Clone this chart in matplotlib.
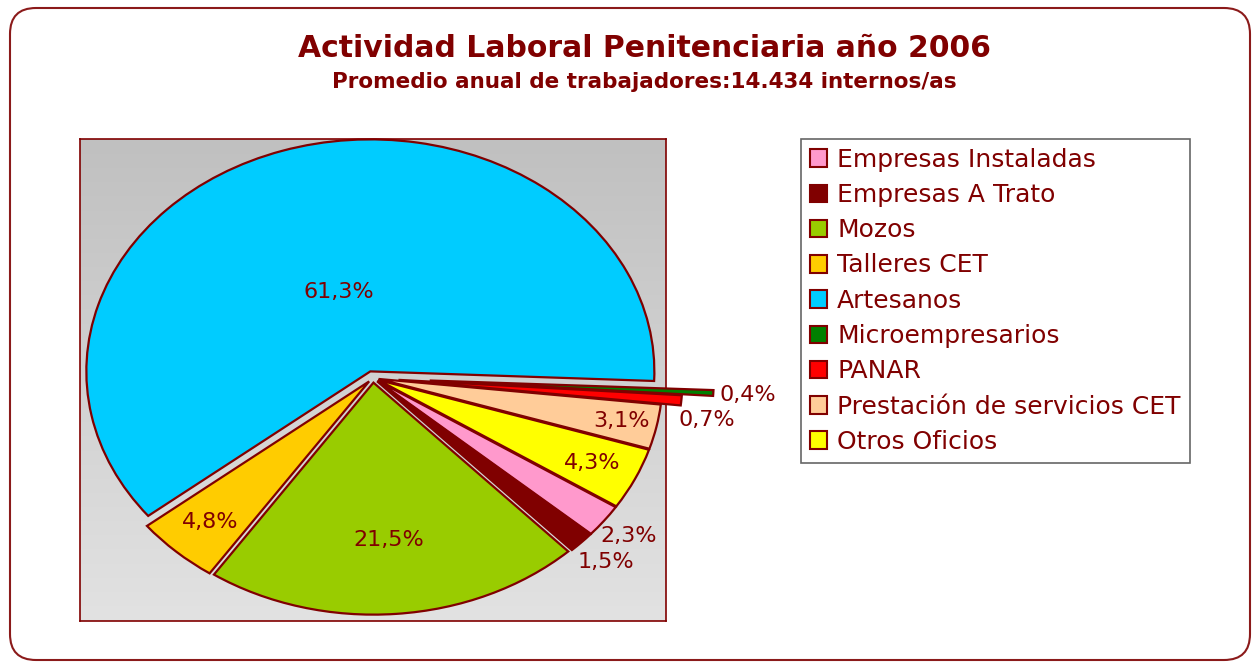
import numpy as np
import matplotlib
matplotlib.use("Agg")
import matplotlib.pyplot as plt
from matplotlib.patches import Patch, FancyBboxPatch

W, H = 1253, 664

categories = ["Empresas Instaladas", "Empresas A Trato", "Mozos", "Talleres CET",
              "Artesanos", "Microempresarios", "PANAR",
              "Prestación de servicios CET", "Otros Oficios"]
values = [2.3, 1.5, 21.5, 4.8, 61.3, 0.4, 0.7, 3.1, 4.3]
pct_labels = ["2,3%", "1,5%", "21,5%", "4,8%", "61,3%", "0,4%", "0,7%", "3,1%", "4,3%"]
colors = ["#ff99cc", "#800000", "#99cc00", "#ffcc00", "#00ccff",
          "#008000", "#ff0000", "#ffcc99", "#ffff00"]
explode = [0.02, 0.02, 0.02, 0.02, 0.03, 0.2, 0.09, 0.02, 0.02]
label_r = [1.13, 1.14, 0.70, 0.845, 0.39, 1.32, 1.19, 0.895, 0.855]
label_dang = [0, 0, 0, 0, 0, 0, -3.7, 0, 0]

dark = "#800000"


def px_axes(fig, x0, y0, x1, y1):
    return fig.add_axes([x0 / W, 1 - y1 / H, (x1 - x0) / W, (y1 - y0) / H])


fig = plt.figure(figsize=(W / 100, H / 100), dpi=100)
fig.patch.set_facecolor("white")

# rounded outer frame, drawn in pixel units
frame_ax = px_axes(fig, 0, 0, W, H)
frame_ax.set_xlim(0, W)
frame_ax.set_ylim(H, 0)
frame_ax.axis("off")
frame_ax.add_patch(FancyBboxPatch((10, 8), 1240, 652,
                                  boxstyle="round,pad=0,rounding_size=26",
                                  facecolor="none", edgecolor="#8b1a1a", linewidth=1.5))

fig.text(0.514, 1 - 57 / H, "Actividad Laboral Penitenciaria año 2006",
         ha="center", va="baseline", fontsize=21.5, fontweight="bold", color=dark,
         family="DejaVu Sans")
fig.text(0.514, 1 - 88 / H, "Promedio anual de trabajadores:14.434 internos/as",
         ha="center", va="baseline", fontsize=15.5, fontweight="bold", color=dark,
         family="DejaVu Sans")

# plot area with gradient
bg = px_axes(fig, 80, 139, 666, 621)
grad = np.linspace(0, 1, 256).reshape(-1, 1)
bg.imshow(grad, cmap=matplotlib.colors.LinearSegmentedColormap.from_list(
    "g", ["#c0c0c0", "#e2e2e2"]), aspect="auto", extent=(0, 1, 0, 1), origin="upper")
bg.set_xticks([])
bg.set_yticks([])
for s in bg.spines.values():
    s.set_color(dark)
    s.set_linewidth(1.2)

ax = px_axes(fig, 80, 139, 666, 621)
ax.patch.set_alpha(0)
wedges, _ = ax.pie(values, colors=colors, startangle=-33, counterclock=False,
                   explode=explode,
                   wedgeprops=dict(edgecolor=dark, linewidth=1.6))
ax.set_aspect("auto")
sx, sy = 284, 232
ax.set_xlim(-293 / sx, 293 / sx)
ax.set_ylim(-243 / sy, 239 / sy)
ax.axis("off")

for w, lab, r, da in zip(wedges, pct_labels, label_r, label_dang):
    th = np.deg2rad((w.theta1 + w.theta2) / 2 + da)
    ax.text(r * np.cos(th), r * np.sin(th), lab, ha="center", va="center",
            fontsize=16, color=dark, family="DejaVu Sans")

handles = [Patch(facecolor=c, edgecolor=dark, linewidth=1.5) for c in colors]
leg = fig.legend(handles, categories, loc="upper left",
                 bbox_to_anchor=(801 / W, 1 - 139 / H), borderaxespad=0,
                 frameon=True, fancybox=False, fontsize=18, labelcolor=dark,
                 handlelength=0.7, handleheight=0.7, handletextpad=0.4,
                 labelspacing=0.45, borderpad=0.35)
leg.get_frame().set_edgecolor("#404040")
leg.get_frame().set_linewidth(1.2)

fig.savefig("out.png", dpi=100)
